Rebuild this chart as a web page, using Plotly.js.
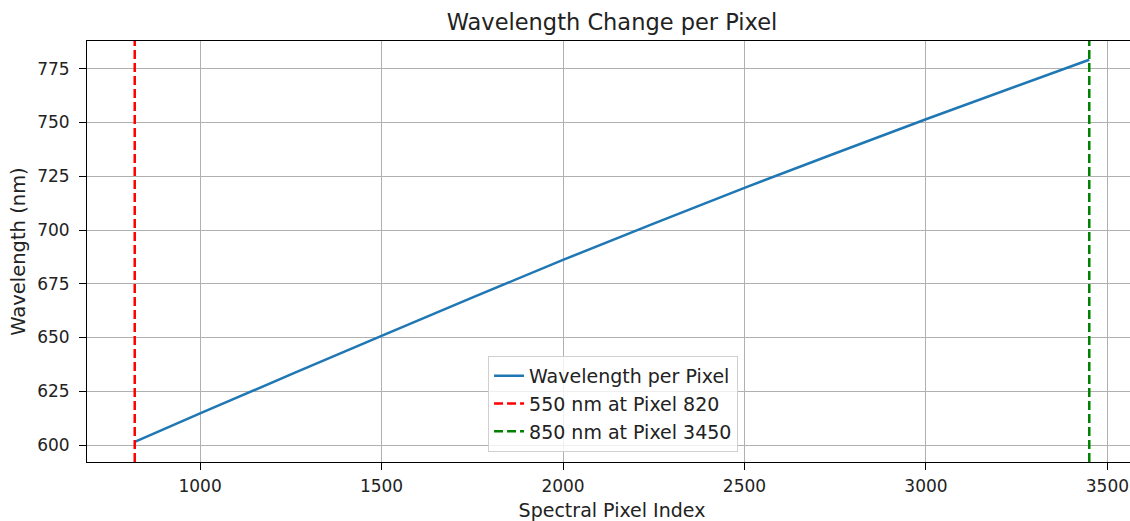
<!DOCTYPE html>
<html>
<head>
<meta charset="utf-8">
<script src="https://cdn.plot.ly/plotly-3.0.1.min.js"></script>
<style>
html,body{margin:0;padding:0;overflow:hidden;background:#fff;}
#chart{width:1140px;height:521px;}
</style>
</head>
<body>
<div id="chart"></div>
<script>
// Data
const pixelIndex = [820, 1000, 1500, 2000, 2500, 3000, 3450];
const wavelengthNm = [601.5, 614.7, 650.8, 686.1, 719.6, 751.5, 779.2];
const markerPixels = [820, 3450];
const markerLabels = ['550 nm at Pixel 820', '850 nm at Pixel 3450'];
const markerColors = ['#ff0000', '#008000'];
const xTicks = [1000, 1500, 2000, 2500, 3000, 3500];
const yTicks = [600, 625, 650, 675, 700, 725, 750, 775];

const font = 'DejaVu Sans, sans-serif';

const traces = [{
  x: pixelIndex, y: wavelengthNm, type: 'scatter', mode: 'lines',
  name: 'Wavelength per Pixel',
  line: {color: '#1f77b4', width: 2.5, shape: 'spline', smoothing: 0.6}
}];
markerPixels.forEach((p, i) => {
  traces.push({
    x: [p, p], y: [0, 1], yaxis: 'y2', type: 'scatter', mode: 'lines',
    name: markerLabels[i],
    line: {color: markerColors[i], width: 2.5, dash: '9px,4px'}
  });
});

const axisCommon = {
  showline: true, linecolor: '#000', linewidth: 1, mirror: true,
  ticks: 'outside', ticklen: 7, tickwidth: 1, tickcolor: '#000',
  showgrid: true, gridcolor: '#b0b0b0', gridwidth: 1,
  zeroline: false, tickfont: {family: font, size: 17, color: '#222'}
};

const layout = {
  width: 1140, height: 521,
  margin: {l: 87, r: 3, t: 41, b: 59},
  paper_bgcolor: '#fff', plot_bgcolor: '#fff',
  title: {text: 'Wavelength Change per Pixel', font: {family: font, size: 22.5, color: '#222'},
          x: 0.5, xref: 'paper', xanchor: 'center', y: 1, yref: 'container', yanchor: 'top', pad: {t: 14}},
  xaxis: Object.assign({}, axisCommon, {
    range: [688.5, 3581.5], tickvals: xTicks, ticktext: xTicks.map(String),
    ticklabelstandoff: 2,
    title: {text: 'Spectral Pixel Index', font: {family: font, size: 19, color: '#222'}, standoff: 10}
  }),
  yaxis: Object.assign({}, axisCommon, {
    range: [592.1, 787.9], tickvals: yTicks, ticktext: yTicks.map(String),
    ticklabelstandoff: 6,
    title: {text: 'Wavelength (nm)', font: {family: font, size: 19.5, color: '#222'}, standoff: 6}
  }),
  yaxis2: {overlaying: 'y', range: [0, 1], visible: false, fixedrange: true},
  showlegend: true,
  legend: {
    x: 0.501, xanchor: 'center', y: 0.024, yanchor: 'bottom',
    bgcolor: 'rgba(255,255,255,0.8)', bordercolor: '#d0d0d0', borderwidth: 1,
    font: {family: font, size: 19, color: '#222'}, tracegroupgap: 0
  }
};

Plotly.newPlot('chart', traces, layout, {staticPlot: true, displayModeBar: false});
</script>
</body>
</html>
